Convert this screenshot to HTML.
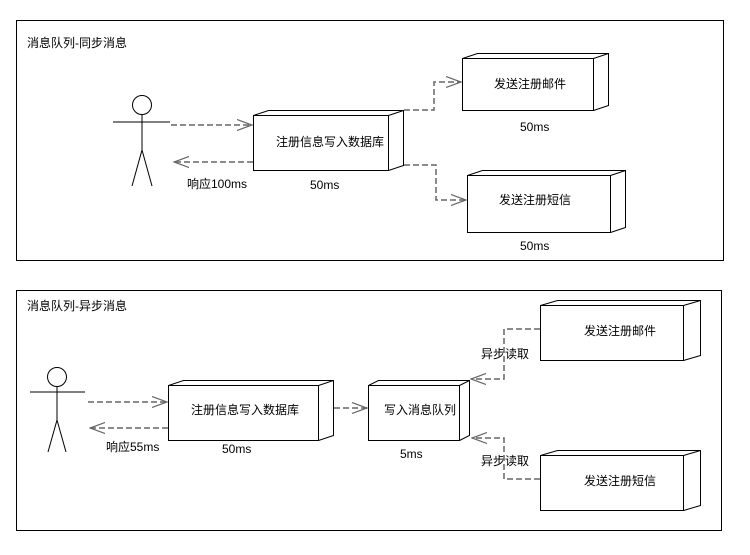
<!DOCTYPE html>
<html><head><meta charset="utf-8"><style>
body{margin:0;background:#fff}
svg text{font-family:"Liberation Sans","Noto Sans CJK SC",sans-serif;font-size:12px;fill:#000}
</style></head><body>
<svg width="750" height="550" xmlns="http://www.w3.org/2000/svg">
<defs>
<marker id="a" markerWidth="16" markerHeight="12" refX="15" refY="6" orient="auto" markerUnits="userSpaceOnUse">
<path d="M0,0.5 L15,6 L0,11.5" fill="none" stroke="#666" stroke-width="1.2"/></marker>
</defs>
<g fill="none" stroke="#000" stroke-width="1">
<rect x="16.5" y="20.5" width="707" height="240"/>
<rect x="16.5" y="290.5" width="705" height="240"/>
</g>
<text x="27" y="47">消息队列-同步消息</text>
<text x="27" y="310">消息队列-异步消息</text>
<g fill="#fff" stroke="#000" stroke-width="1">
<path d="M253.5,115.5 L268.5,110.5 L403.5,110.5 L403.5,165.5 L388.5,170.5"/><rect x="253.5" y="115.5" width="135" height="55"/><path d="M388.5,115.5 L403.5,110.5"/>
<path d="M462.5,58.5 L477.5,53.5 L608.5,53.5 L608.5,105.5 L593.5,110.5"/><rect x="462.5" y="58.5" width="131" height="52"/><path d="M593.5,58.5 L608.5,53.5"/>
<path d="M467.5,175.5 L482.5,170.5 L625.5,170.5 L625.5,227.5 L610.5,232.5"/><rect x="467.5" y="175.5" width="143" height="57"/><path d="M610.5,175.5 L625.5,170.5"/>
<path d="M168.5,385.5 L183.5,380.5 L333.5,380.5 L333.5,435.5 L318.5,440.5"/><rect x="168.5" y="385.5" width="150" height="55"/><path d="M318.5,385.5 L333.5,380.5"/>
<path d="M368.5,385.5 L378.5,380.5 L469.5,380.5 L469.5,435.5 L459.5,440.5"/><rect x="368.5" y="385.5" width="91" height="55"/><path d="M459.5,385.5 L469.5,380.5"/>
<path d="M540.5,305.5 L557.5,300.5 L700.5,300.5 L700.5,355.5 L683.5,360.5"/><rect x="540.5" y="305.5" width="143" height="55"/><path d="M683.5,305.5 L700.5,300.5"/>
<path d="M540.5,455.5 L557.5,450.5 L700.5,450.5 L700.5,505.5 L683.5,510.5"/><rect x="540.5" y="455.5" width="143" height="55"/><path d="M683.5,455.5 L700.5,450.5"/>
</g>
<text x="276" y="146">注册信息写入数据库</text>
<text x="494" y="88">发送注册邮件</text>
<text x="499" y="204">发送注册短信</text>
<text x="191" y="414">注册信息写入数据库</text>
<text x="384" y="414">写入消息队列</text>
<text x="584" y="335">发送注册邮件</text>
<text x="584" y="485">发送注册短信</text>
<text x="520" y="131">50ms</text>
<text x="520" y="250">50ms</text>
<text x="310" y="189">50ms</text>
<text x="187" y="188">响应100ms</text>
<text x="106" y="451">响应55ms</text>
<text x="222" y="453">50ms</text>
<text x="400" y="458">5ms</text>
<text x="481" y="358">异步读取</text>
<text x="481" y="465">异步读取</text>
<g fill="none" stroke="#000" stroke-width="1">
<circle cx="142" cy="105" r="9.5"/><path d="M113,122 H170 M142,115 V150 L132,186 M142,150 L152,186"/>
<circle cx="57" cy="377" r="9.5"/><path d="M30,392 H85 M57,387 V420 L48,452 M57,420 L66,452"/>
</g>
<g fill="none" stroke="#666" stroke-width="1.5" stroke-dasharray="6,3">
<path d="M171,125 H252" marker-end="url(#a)"/>
<path d="M253,162 H174" marker-end="url(#a)"/>
<path d="M404,110 H434 V82 H461" marker-end="url(#a)"/>
<path d="M404,165 H436 V200 H466" marker-end="url(#a)"/>
<path d="M88,402 H167" marker-end="url(#a)"/>
<path d="M168,428 H90" marker-end="url(#a)"/>
<path d="M334,408 H367" marker-end="url(#a)"/>
<path d="M540,329 H504 V379 H471" marker-end="url(#a)"/>
<path d="M540,479 H504 V438 H472" marker-end="url(#a)"/>
</g>
</svg>
</body></html>
